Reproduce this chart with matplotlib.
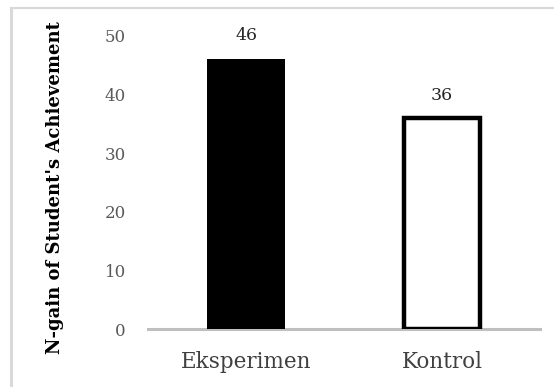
import matplotlib.pyplot as plt
from matplotlib.lines import Line2D

categories = ["Eksperimen", "Kontrol"]
values = [46, 36]
yticks = [0, 10, 20, 30, 40, 50]

W, H = 554, 387
fig = plt.figure(figsize=(W / 100, H / 100), dpi=100)
serif = ["DejaVu Serif"]

# axes placed in pixel terms of the original
ax = fig.add_axes([148 / W, 1 - 329 / H, (540 - 148) / W, (329 - 36) / H])

x = range(len(categories))
ax.bar(0, values[0], width=0.4, color="black", edgecolor="black", linewidth=0)
ax.bar(1, values[1], width=0.385, color="white", edgecolor="black", linewidth=3.2,
       joinstyle="miter")

offsets = [4.0, 3.8]
for i, v in enumerate(values):
    ax.text(i, v + offsets[i], str(v), ha="center", va="center", fontsize=12.5,
            family=serif, color="#262626")

ax.set_xlim(-0.5, 1.5)
ax.set_ylim(0, 50)
ax.set_yticks(yticks)
ax.set_yticklabels([str(t) for t in yticks], family=serif, fontsize=12, color="#595959")
ax.set_xticks(list(x))
ax.set_xticklabels(categories, family=serif, fontsize=15.5, color="#404040")
ax.tick_params(axis="both", length=0)
ax.tick_params(axis="y", pad=16)
ax.tick_params(axis="x", pad=16)

for side in ["top", "right", "left"]:
    ax.spines[side].set_visible(False)
ax.spines["bottom"].set_color("#bfbfbf")
ax.spines["bottom"].set_linewidth(2.2)
ax.spines["bottom"].set_zorder(0)

fig.text(55 / W, 1 - 188 / H, "N-gain of Student's Achievement", rotation=90,
         ha="center", va="center", family=serif, fontsize=13, fontweight="bold")

# chart frame (only top and left edges visible in the crop)
fig.add_artist(Line2D([10.5 / W, 1], [1 - 7.5 / H] * 2, transform=fig.transFigure,
                      color="#d9d9d9", linewidth=1.6))
fig.add_artist(Line2D([10.5 / W] * 2, [0, 1 - 7.5 / H], transform=fig.transFigure,
                      color="#d9d9d9", linewidth=2.2))

fig.savefig("out.png", dpi=100)
